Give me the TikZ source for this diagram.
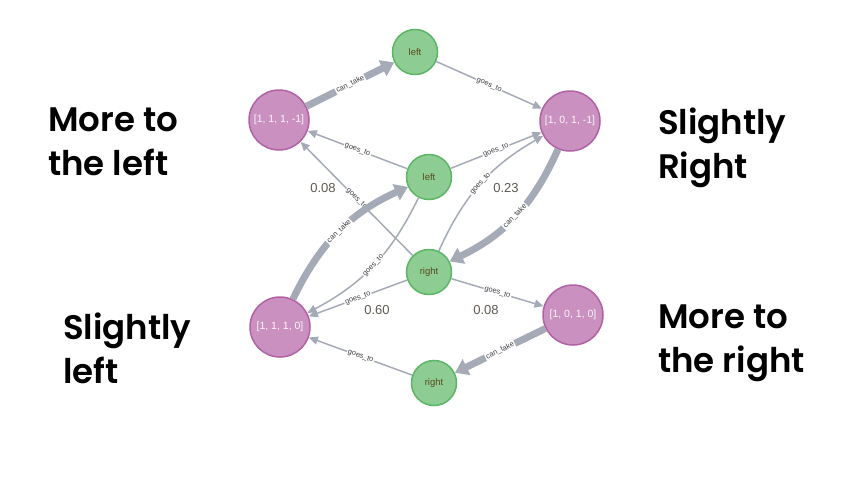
\documentclass[tikz,border=0pt]{standalone}
\usepackage{fontspec}
\setmainfont{Liberation Sans}
\newfontfamily\bigfont{Poppins SemiBold}
\usetikzlibrary{arrows.meta}
\definecolor{pfill}{HTML}{C990C0}
\definecolor{pdraw}{HTML}{B261A5}
\definecolor{gfill}{HTML}{8DCC93}
\definecolor{gdraw}{HTML}{5DB665}
\definecolor{edgec}{HTML}{A5ABB6}
\definecolor{gtext}{HTML}{5B4A1E}
\definecolor{ltext}{HTML}{3F3F46}
\definecolor{numc}{HTML}{5E5A52}
\begin{document}
\begin{tikzpicture}[x=1pt,y=1pt,
 state/.style={circle, fill=pfill, draw=pdraw, line width=1.5pt, minimum size=60pt, inner sep=0pt, text=white!92!pfill, font=\fontsize{10.5}{12}\selectfont},
 action/.style={circle, fill=gfill, draw=gdraw, line width=1.5pt, minimum size=45pt, inner sep=0pt, text=gtext, font=\fontsize{9.5}{11}\selectfont},
 goes/.style={draw=edgec, line width=1.5pt, -{Triangle[length=9pt,width=8pt]}},
 take/.style={draw=edgec, line width=7pt, -{Triangle[length=13pt,width=17pt]}},
 elabel/.style={sloped, fill=white, inner sep=1pt, text=ltext, font=\fontsize{7.5}{8}\selectfont},
 num/.style={text=numc, font=\fontsize{13}{14}\selectfont},
 big/.style={anchor=base west, align=left, inner sep=0pt, font=\bigfont\fontsize{34}{44}\selectfont}
]
\useasboundingbox (0,0) rectangle (863,-488);
\fill[white] (0,0) rectangle (863,-488);

% nodes
\node[action] (L1) at (415,-52) {left};
\node[state]  (A)  at (279,-120) {[1, 1, 1, -1]};
\node[state]  (B)  at (570,-121) {[1, 0, 1, -1]};
\node[action] (L2) at (429,-177) {left};
\node[action] (R1) at (429,-272) {right};
\node[state]  (C)  at (280,-327) {[1, 1, 1, 0]};
\node[state]  (D)  at (573,-315) {[1, 0, 1, 0]};
\node[action] (R2) at (434,-383) {right};

% edges
\draw[take] (A) -- node[elabel] {can\_take} (L1);
\draw[goes] (L1) -- node[elabel] {goes\_to} (B);
\draw[goes] (L2) -- node[elabel] {goes\_to} (A);
\draw[goes] (L2) -- node[elabel] {goes\_to} (B);
\draw[goes] (R1) -- node[elabel, pos=0.5] {goes\_to} (A);
\draw[goes] (R1) to[bend left=18] node[elabel] {goes\_to} (B);
\draw[take] (B) to[bend left=20] node[elabel] {can\_take} (R1);
\draw[take] (C) to[bend left=20] node[elabel] {can\_take} (L2);
\draw[goes] (L2) to[bend left=18] node[elabel] {goes\_to} (C);
\draw[goes] (R1) -- node[elabel] {goes\_to} (C);
\draw[goes] (R1) -- node[elabel] {goes\_to} (D);
\draw[take] (D) -- node[elabel] {can\_take} (R2);
\draw[goes] (R2) -- node[elabel] {goes\_to} (C);

% numbers
\node[num] (n1) at (323,-188) {0.08};
\node[num] (n2) at (506,-188) {0.23};
\node[num] (n3) at (377,-310) {0.60};
\node[num] (n4) at (486,-310) {0.08};

% big labels (anchor at baseline of the last line)
\node[big] (t1) at (48,-175) {More to\\the left};
\node[big] (t2) at (658,-178) {Slightly\\Right};
\node[big] (t3) at (63,-383) {Slightly\\left};
\node[big] (t4) at (658,-372) {More to\\the right};
\end{tikzpicture}
\end{document}
